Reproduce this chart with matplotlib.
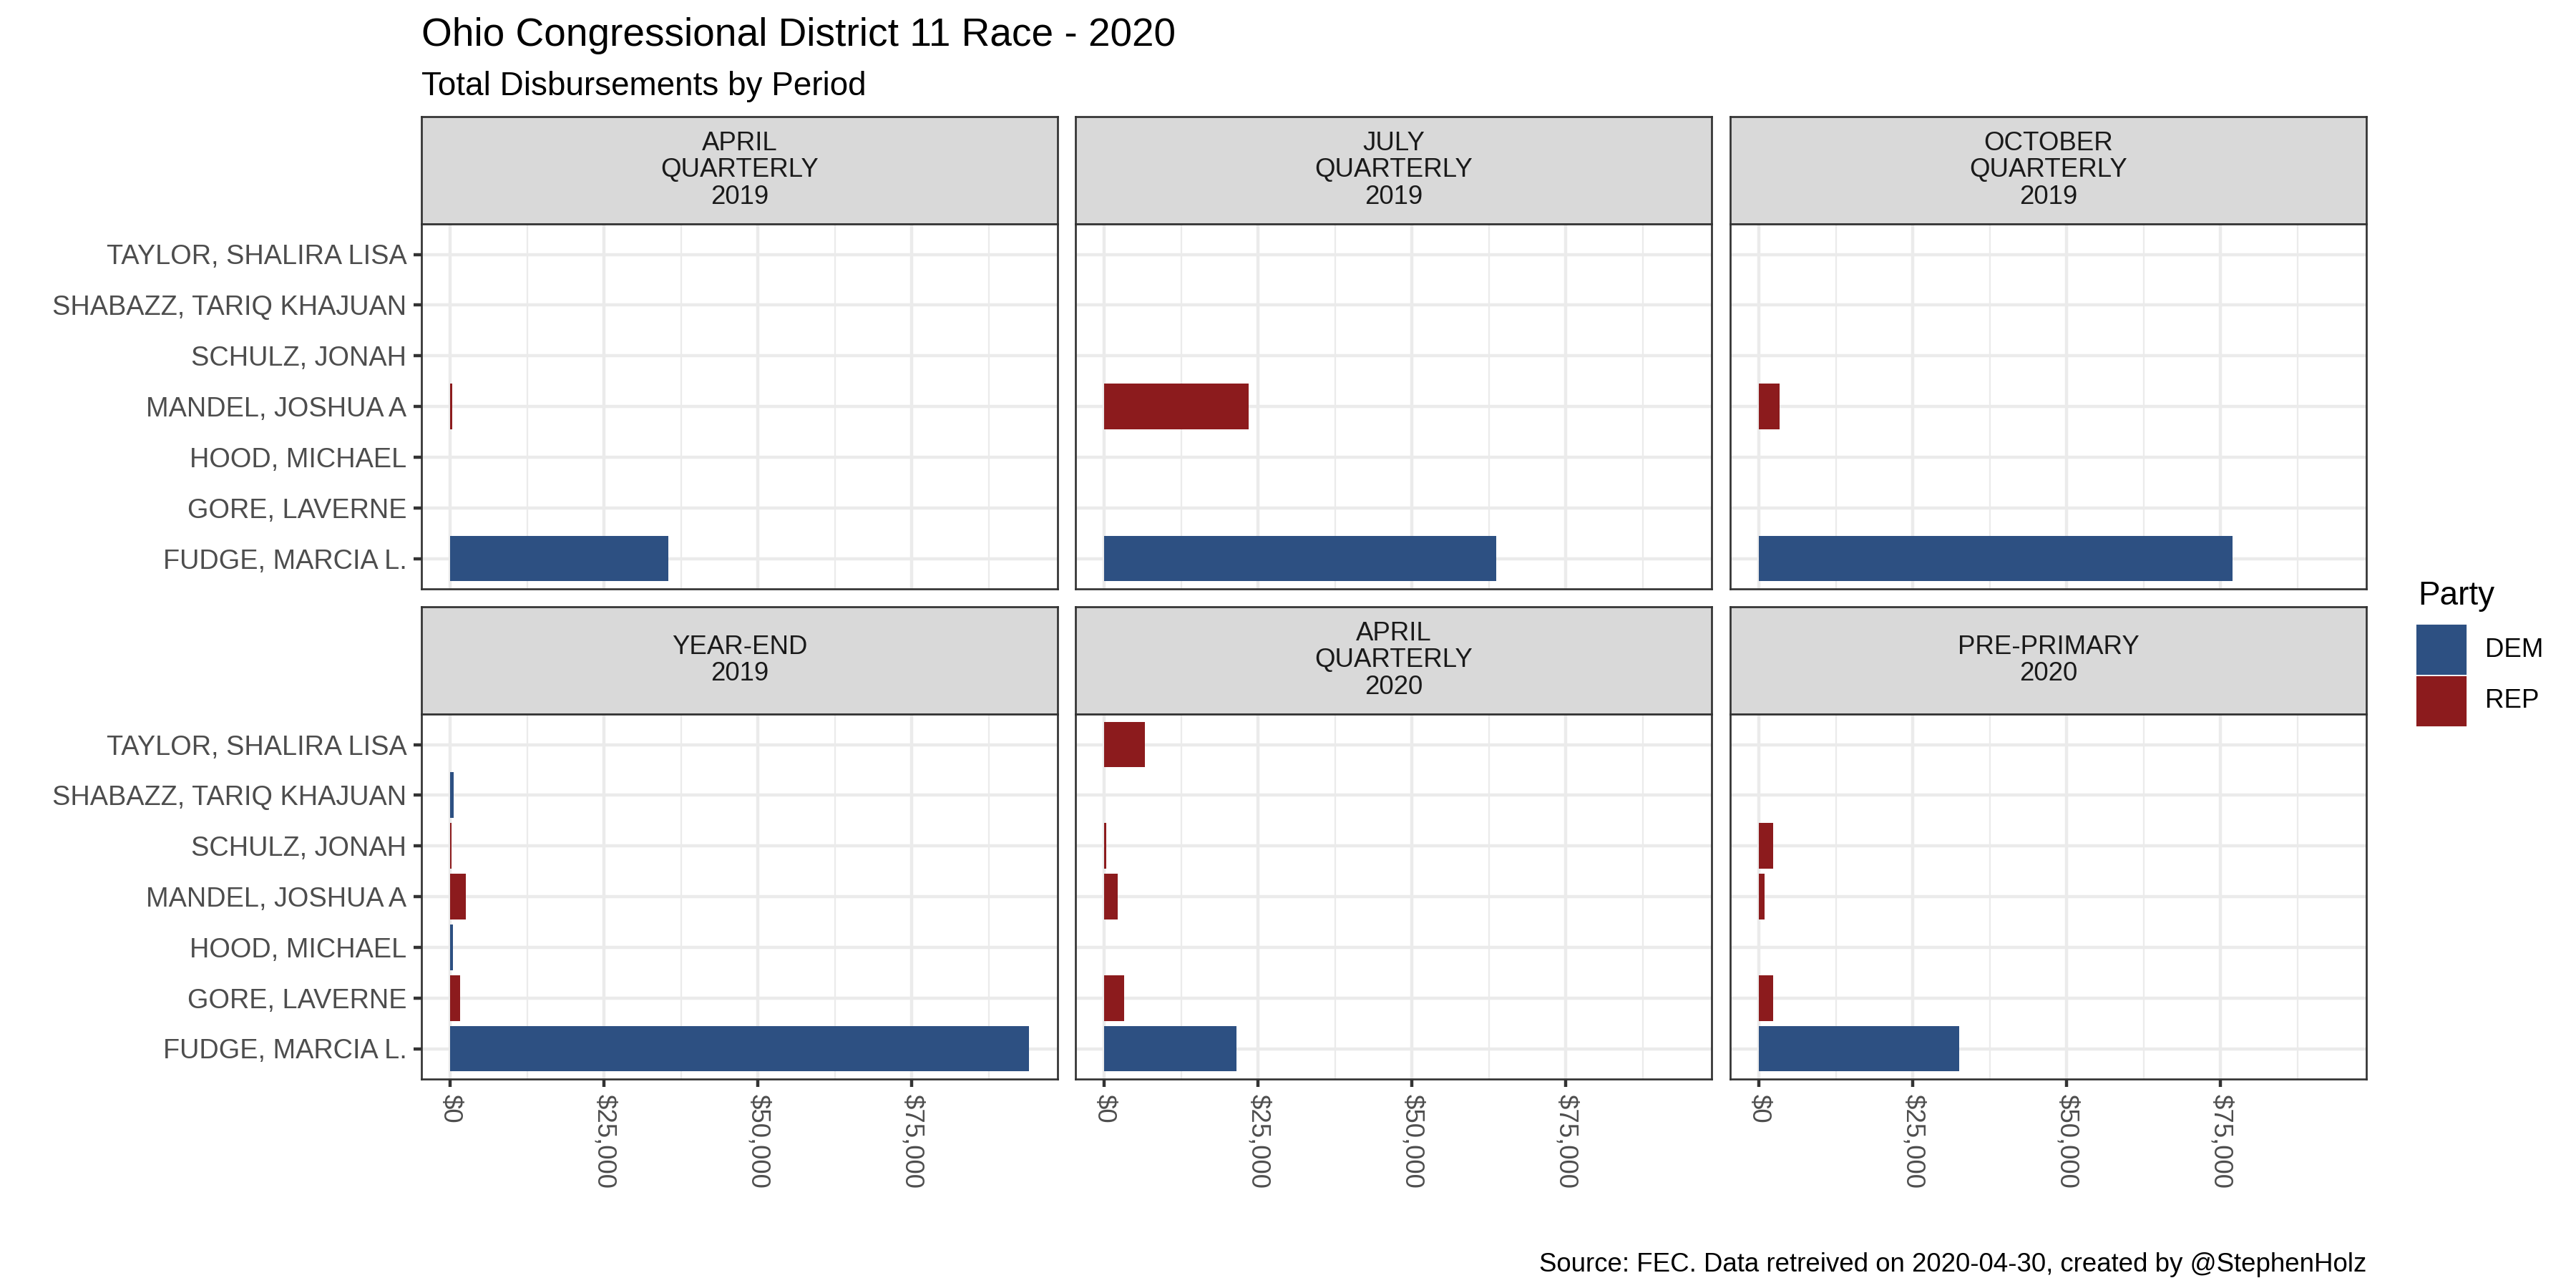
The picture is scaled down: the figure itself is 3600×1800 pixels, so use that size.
import matplotlib
matplotlib.use("Agg")
import matplotlib.pyplot as plt
from matplotlib.patches import Rectangle
from matplotlib.ticker import FixedLocator, FuncFormatter

plt.rcParams['font.family'] = ['Liberation Sans', 'DejaVu Sans']

##### Data #####
candidates = ["FUDGE, MARCIA L.", "GORE, LAVERNE", "HOOD, MICHAEL", "MANDEL, JOSHUA A",
              "SCHULZ, JONAH", "SHABAZZ, TARIQ KHAJUAN", "TAYLOR, SHALIRA LISA"]
party = ["DEM", "REP", "DEM", "REP", "REP", "DEM", "REP"]

periods = ["APRIL\nQUARTERLY\n2019", "JULY\nQUARTERLY\n2019", "OCTOBER\nQUARTERLY\n2019",
           "YEAR-END\n2019", "APRIL\nQUARTERLY\n2020", "PRE-PRIMARY\n2020"]

# disbursements per candidate (same order as candidates), 0 = no filing
april_q_2019 = [35400, 0, 0, 350, 0, 0, 0]
july_q_2019 = [63700, 0, 0, 23500, 0, 0, 0]
october_q_2019 = [76900, 0, 0, 3350, 0, 0, 0]
year_end_2019 = [94000, 1620, 460, 2550, 230, 580, 0]
april_q_2020 = [21500, 3250, 0, 2200, 350, 0, 6600]
pre_primary_2020 = [32500, 2320, 0, 930, 2320, 0, 0]
period_values = [april_q_2019, july_q_2019, october_q_2019,
                 year_end_2019, april_q_2020, pre_primary_2020]

x_breaks = [0, 25000, 50000, 75000]
party_colors = {"DEM": "#2D5082", "REP": "#8C1B1D"}

##### Layout (pixels, top-left origin) #####
W, H = 3600, 1800
fig = plt.figure(figsize=(12, 6), dpi=300)


def px_axes(x0, y0, x1, y1):
    return fig.add_axes([x0 / W, 1 - y1 / H, (x1 - x0) / W, (y1 - y0) / H])


col_left = [589, 1503, 2418]
panel_w = 889
rows = [(163, 313, 823), (848, 998, 1508)]   # strip top, panel top, panel bottom

grid_col = "#EBEBEB"
dark = "#333333"
lw = 1.07
border_lw = 0.65

xmax = max(max(v) for v in period_values)

for i, vals in enumerate(period_values):
    r, c = divmod(i, 3)
    st, pt, pb = rows[r]
    x0 = col_left[c]

    # strip
    sax = px_axes(x0, st, x0 + panel_w, pt)
    sax.set_facecolor("#D9D9D9")
    sax.set_xticks([])
    sax.set_yticks([])
    for s in sax.spines.values():
        s.set_color(dark)
        s.set_linewidth(border_lw)
    sax.text(0.5, 0.5, periods[i], ha="center", va="center", fontsize=8.8,
             color="#1A1A1A", linespacing=1.08, transform=sax.transAxes)

    # panel
    ax = px_axes(x0, pt, x0 + panel_w, pb)
    ys = [k + 1 for k, v in enumerate(vals) if v > 0]
    ws = [v for v in vals if v > 0]
    cs = [party_colors[party[k]] for k, v in enumerate(vals) if v > 0]
    ax.barh(ys, ws, height=0.9, color=cs, zorder=2)

    ax.set_xlim(-0.05 * xmax, 1.05 * xmax)
    ax.set_ylim(0.4, len(candidates) + 0.6)
    ax.xaxis.set_major_locator(FixedLocator(x_breaks))
    ax.xaxis.set_minor_locator(FixedLocator([12500, 37500, 62500, 87500]))
    ax.yaxis.set_major_locator(FixedLocator(range(1, len(candidates) + 1)))
    ax.set_axisbelow(True)
    ax.grid(which="major", color=grid_col, linewidth=lw, zorder=0)
    ax.grid(which="minor", axis="x", color=grid_col, linewidth=lw / 2, zorder=0)
    for s in ax.spines.values():
        s.set_color(dark)
        s.set_linewidth(border_lw)
        s.set_zorder(3)

    ax.tick_params(which="major", length=2.75, width=lw, color=dark,
                   labelsize=8.8, labelcolor="#4D4D4D", pad=2.2)
    ax.tick_params(which="minor", length=0)

    if c == 0:
        ax.set_yticklabels(candidates, fontsize=9.1)
    else:
        ax.tick_params(axis="y", left=False, labelleft=False)

    if r == 1:
        ax.xaxis.set_major_formatter(FuncFormatter(lambda v, p: "${:,.0f}".format(v)))
        for lab in ax.get_xticklabels():
            lab.set_rotation(270)
            lab.set_ha("center")
            lab.set_va("top")
    else:
        ax.tick_params(axis="x", bottom=False, labelbottom=False)

##### Titles #####
fig.text(589 / W, 1 - 64 / H, "Ohio Congressional District 11 Race - 2020",
         fontsize=13.2, ha="left", va="baseline")
fig.text(589 / W, 1 - 133 / H, "Total Disbursements by Period",
         fontsize=11, ha="left", va="baseline")
fig.text(3307 / W, 1 - 1777 / H, "Source: FEC. Data retreived on 2020-04-30, created by @StephenHolz",
         fontsize=8.8, ha="right", va="baseline")

##### Legend #####
fig.text(3379 / W, 1 - 845 / H, "Party", fontsize=11, ha="left", va="baseline")
key_top = 875
for k, name in enumerate(["DEM", "REP"]):
    y0 = key_top + k * 72
    fig.patches.append(Rectangle((3379 / W, 1 - (y0 + 66) / H), 66 / W, 66 / H,
                                 transform=fig.transFigure, color=party_colors[name]))
    fig.text(3473 / W, 1 - (y0 + 33) / H, name, fontsize=8.8, ha="left", va="center")

fig.savefig("out.png", dpi=300)
